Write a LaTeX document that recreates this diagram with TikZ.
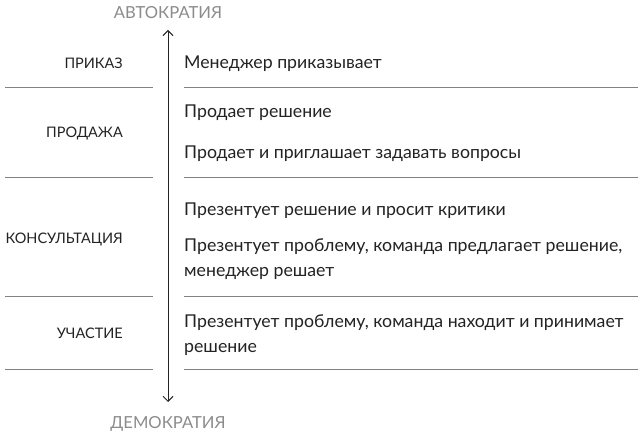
\documentclass[tikz,border=0pt]{standalone}
\usepackage{fontspec}
\setmainfont{Lato}
\usetikzlibrary{arrows.meta}
\definecolor{txt}{RGB}{35,35,35}
\definecolor{rule}{RGB}{130,130,130}
\definecolor{head}{RGB}{140,140,140}
\tikzset{
  main/.style={anchor=base west, inner sep=0pt, font=\fontsize{17.7bp}{20bp}\selectfont, text=txt},
  cat/.style={anchor=base east, inner sep=0pt, font=\fontsize{14.5bp}{17bp}\selectfont, text=txt},
  pole/.style={anchor=base, inner sep=0pt, font=\fontsize{16.6bp}{19bp}\selectfont, text=head},
  sep/.style={draw=rule, line width=0.8bp},
}
\begin{document}
\begin{tikzpicture}[x=1bp,y=-1bp]
\useasboundingbox[fill=white] (0,0) rectangle (643,435);
\node[pole] (top) at (168,19) {АВТОКРАТИЯ};
\node[pole] (bot) at (168,428) {ДЕМОКРАТИЯ};
\coordinate (atop) at (168,30);
\coordinate (abot) at (168,402);
\draw[line width=0.9bp, txt, {Straight Barb[length=5bp,width=10bp]}-{Straight Barb[length=5bp,width=10bp]}] (atop) -- (abot);
% separators
\foreach \y/\n in {87/a,177/b,296/c,369/d}{
  \coordinate (l\n1) at (5,\y); \coordinate (l\n2) at (153,\y);
  \coordinate (r\n1) at (184,\y); \coordinate (r\n2) at (638,\y);
  \draw[sep] (l\n1) -- (l\n2);
  \draw[sep] (r\n1) -- (r\n2);
}
% categories
\node[cat] (c1) at (123,69) {ПРИКАЗ};
\node[cat] (c2) at (123,138) {ПРОДАЖА};
\node[cat] (c3) at (123,244) {КОНСУЛЬТАЦИЯ};
\node[cat] (c4) at (123,338) {УЧАСТИЕ};
% descriptions
\node[main] (d1) at (184,69) {Менеджер приказывает};
\node[main] (d2) at (184,118) {Продает решение};
\node[main] (d3) at (184,159) {Продает и приглашает задавать вопросы};
\node[main] (d4) at (184,216) {Презентует решение и просит критики};
\node[main] (d5) at (184,252) {Презентует проблему, команда предлагает решение,};
\node[main] (d6) at (184,277) {менеджер решает};
\node[main] (d7) at (184,327) {Презентует проблему, команда находит и принимает};
\node[main] (d8) at (184,352) {решение};
\end{tikzpicture}
\end{document}
